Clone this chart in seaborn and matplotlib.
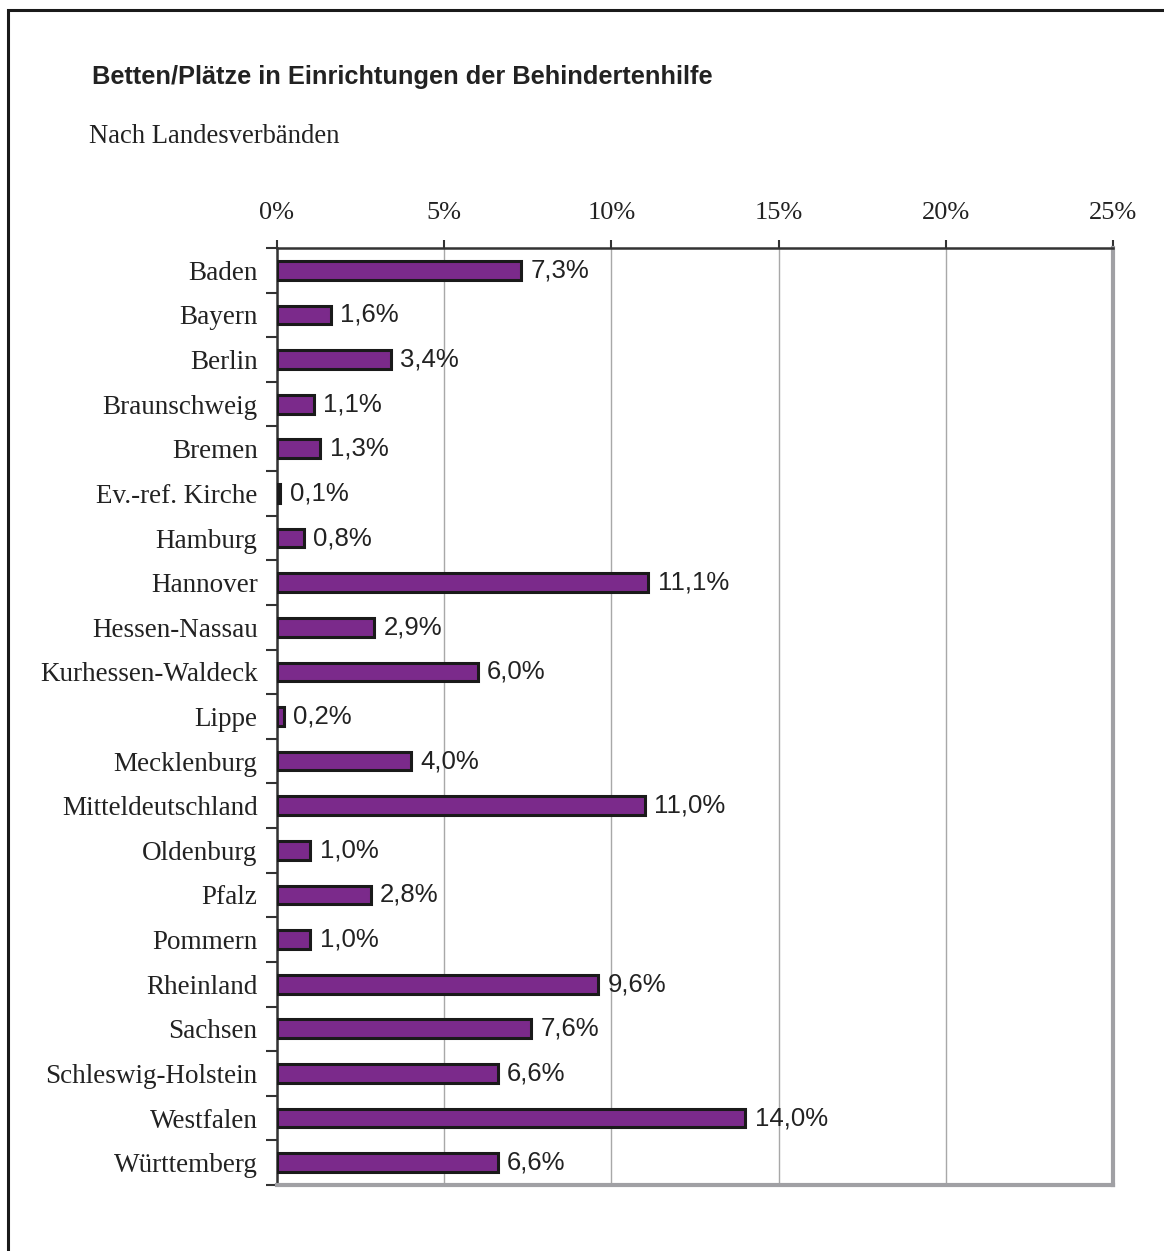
import matplotlib
matplotlib.use('Agg')
import matplotlib.pyplot as plt
import seaborn as sns
import pandas as pd
import numpy as np
from matplotlib.patches import Rectangle
from matplotlib.ticker import FixedLocator

verbaende = ['Baden', 'Bayern', 'Berlin', 'Braunschweig', 'Bremen', 'Ev.-ref. Kirche',
             'Hamburg', 'Hannover', 'Hessen-Nassau', 'Kurhessen-Waldeck', 'Lippe',
             'Mecklenburg', 'Mitteldeutschland', 'Oldenburg', 'Pfalz', 'Pommern',
             'Rheinland', 'Sachsen', 'Schleswig-Holstein', 'Westfalen', 'Württemberg']
anteile = [7.3, 1.6, 3.4, 1.1, 1.3, 0.1, 0.8, 11.1, 2.9, 6.0, 0.2, 4.0, 11.0, 1.0,
           2.8, 1.0, 9.6, 7.6, 6.6, 14.0, 6.6]
x_ticks = [0, 5, 10, 15, 20, 25]
x_ticklabels = ['0%', '5%', '10%', '15%', '20%', '25%']

df = pd.DataFrame({'Verband': verbaende, 'Anteil': anteile})

sns.set_style('white')
serif = ['Liberation Serif', 'DejaVu Serif']
sans = ['Liberation Sans', 'DejaVu Sans']

fig = plt.figure(figsize=(11.64, 12.51), dpi=100)
W, H = 1164, 1251
ax = fig.add_axes([277 / W, 1 - 1185 / H, (1113 - 277) / W, (1185 - 248) / H])

sns.barplot(data=df, x='Anteil', y='Verband', orient='h', color='#7B2A8B',
            saturation=1, width=0.42, edgecolor='#1a1a1a', linewidth=2.2, ax=ax, zorder=3)

ax.set_xlim(0, 25)
ax.set_ylim(len(verbaende) - 0.5, -0.5)
ax.set_xlabel('')
ax.set_ylabel('')

# x axis on top
ax.xaxis.tick_top()
ax.set_xticks(x_ticks)
ax.set_xticklabels(x_ticklabels, fontfamily=serif, fontsize=19, color='#222222')
ax.tick_params(axis='x', which='major', direction='out', length=6, width=1.5,
               color='#333333', pad=11, top=True, bottom=False)
ax.grid(axis='x', color='#a8a8a8', linewidth=1.0, zorder=0)

# y axis ticks between categories
ax.set_yticks(range(len(verbaende)))
ax.set_yticklabels(verbaende, fontfamily=serif, fontsize=19.5, color='#222222')
ax.tick_params(axis='y', which='major', length=0, pad=14)
ax.yaxis.set_minor_locator(FixedLocator(np.arange(-0.5, len(verbaende), 1.0)))
ax.tick_params(axis='y', which='minor', direction='out', length=8, width=1.5,
               color='#333333', left=True)

for side in ['top', 'left']:
    ax.spines[side].set_color('#333333')
    ax.spines[side].set_linewidth(1.8)
for side in ['right', 'bottom']:
    ax.spines[side].set_color('#a0a0a4')
    ax.spines[side].set_linewidth(3)
    ax.spines[side].set_visible(True)

for i, v in enumerate(anteile):
    ax.text(v + 0.28, i, f'{v:.1f}%'.replace('.', ','), va='center', ha='left',
            fontfamily=sans, fontsize=18.5, color='#222222', zorder=4)

fig.text(92 / W, 1 - 84 / H, 'Betten/Plätze in Einrichtungen der Behindertenhilfe',
         fontfamily=sans, fontweight='bold', fontsize=18.3, color='#222222',
         ha='left', va='baseline')
fig.text(89 / W, 1 - 143 / H, 'Nach Landesverbänden', fontfamily=serif,
         fontsize=19.2, color='#222222', ha='left', va='baseline')

# frame around the chart (open at right/bottom as in the original)
fig.patches.append(Rectangle((8 / W, -0.1), 1.2, 1 - 10 / H + 0.1,
                             transform=fig.transFigure, fill=False,
                             edgecolor='#1a1a1a', linewidth=2.2))

fig.savefig('out.png', dpi=100)
